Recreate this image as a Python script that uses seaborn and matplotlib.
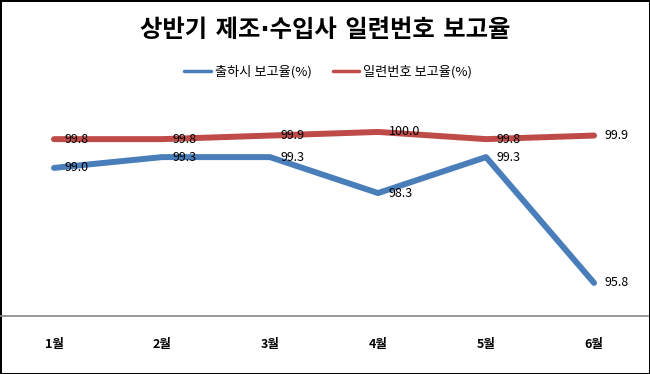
import pandas as pd
import matplotlib
matplotlib.use("Agg")
import matplotlib.pyplot as plt
import seaborn as sns

# chart data
months = ["1월", "2월", "3월", "4월", "5월", "6월"]
shipping_rate = [99.0, 99.3, 99.3, 98.3, 99.3, 95.8]
serial_rate = [99.8, 99.8, 99.9, 100.0, 99.8, 99.9]
series_names = ["출하시 보고율(%)", "일련번호 보고율(%)"]
series_colors = ["#4A7EBB", "#BE4B48"]

df = pd.concat([
    pd.DataFrame({"month": months, "rate": shipping_rate, "series": series_names[0]}),
    pd.DataFrame({"month": months, "rate": serial_rate, "series": series_names[1]}),
])

sns.set_theme(style="white")
plt.rcParams["font.family"] = ["Noto Sans CJK KR", "DejaVu Sans"]
plt.rcParams["text.color"] = "black"
plt.rcParams["xtick.color"] = "black"

fig = plt.figure(figsize=(6.5, 3.74), dpi=100)
fig.patch.set_facecolor("white")
fig.patch.set_edgecolor("black")
fig.patch.set_linewidth(2)

ax = fig.add_axes([0.0, 1 - 316 / 374, 0.997, 220 / 374])
ax.set_facecolor("none")

sns.lineplot(
    data=df, x="month", y="rate", hue="series", sort=False,
    palette=dict(zip(series_names, series_colors)),
    linewidth=4.3, solid_capstyle="round", solid_joinstyle="round",
    legend=False, ax=ax,
)

# data labels to the right of each point
for vals in (serial_rate, shipping_rate):
    for i, v in enumerate(vals):
        ax.annotate(f"{v:.1f}", (i, v), xytext=(7.5, 0), textcoords="offset points",
                    ha="left", va="center", fontsize=9, color="black")

ax.set_xlim(-0.5, 5.5)
ax.set_ylim(94.88, 101.0)
ax.set_yticks([])
ax.set_xlabel("")
ax.set_ylabel("")
for s in ["top", "left", "right"]:
    ax.spines[s].set_visible(False)
ax.spines["bottom"].set_color("#868686")
ax.spines["bottom"].set_linewidth(1.2)
ax.tick_params(axis="x", length=0, pad=16, colors="black")
for lab in ax.get_xticklabels():
    lab.set_fontsize(9)
    lab.set_fontweight("bold")

# DejaVu first so the middle dot stays narrow, Hangul falls back to Noto
fig.text(0.5, 1 - 30 / 374, "상반기 제조·수입사 일련번호 보고율",
         ha="center", va="center", fontsize=17.5, fontweight="bold", color="black",
         family=["DejaVu Sans", "Noto Sans CJK KR"])

fig.legend(ax.get_lines()[:2], series_names, loc="center",
           bbox_to_anchor=(0.505, 1 - 72 / 374), ncol=2, frameon=False,
           fontsize=9.5, handlelength=2.0, handletextpad=0.3, columnspacing=1.6,
           labelcolor="black")
for h in fig.legends[0].legend_handles:
    h.set_linewidth(2.5)

fig.savefig("out.png", dpi=100)
